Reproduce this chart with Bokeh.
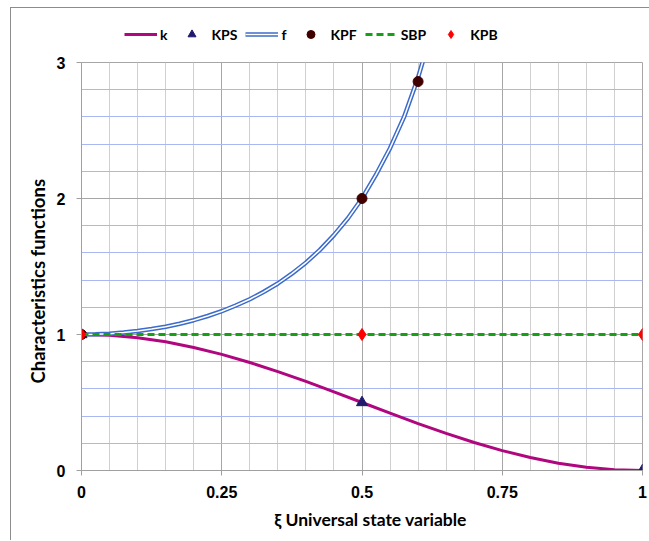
from bokeh.plotting import figure
from bokeh.layouts import column
from bokeh.models import Range1d, FixedTicker, Legend, LegendItem, Title
from bokeh.embed import file_html
from bokeh.resources import INLINE

# data
xk = [0.0, 0.05, 0.1, 0.15, 0.2, 0.25, 0.3, 0.35, 0.4, 0.45, 0.5,
      0.55, 0.6, 0.65, 0.7, 0.75, 0.8, 0.85, 0.9, 0.95, 1.0]
k_vals = [1.0, 0.994, 0.976, 0.946, 0.905, 0.854, 0.794, 0.727, 0.655, 0.578, 0.5,
          0.422, 0.345, 0.273, 0.206, 0.146, 0.095, 0.054, 0.024, 0.006, 0.0]
xf = [0.0, 0.025, 0.05, 0.075, 0.1, 0.125, 0.15, 0.175, 0.2, 0.225, 0.25, 0.275, 0.3,
      0.325, 0.35, 0.375, 0.4, 0.425, 0.45, 0.475, 0.5, 0.525, 0.55, 0.575, 0.6, 0.625]
f_vals = [1.0, 1.002, 1.006, 1.014, 1.025, 1.040, 1.057, 1.079, 1.105, 1.136, 1.171, 1.213, 1.259,
          1.314, 1.375, 1.447, 1.528, 1.622, 1.731, 1.855, 2.0, 2.175, 2.37, 2.60, 2.89, 3.24]
xs_sbp = [0.0, 1.0]
sbp_vals = [1.0, 1.0]
kps_x = [0.0, 0.5, 1.0]
kps_y = [1.0, 0.5, 0.0]
kpf_x = [0.0, 0.5, 0.6]
kpf_y = [1.0, 2.0, 2.86]
kpb_x = [0.0, 0.5, 1.0]
kpb_y = [1.0, 1.0, 1.0]
series_names = ["k", "KPS", "f", "KPF", "SBP", "KPB"]
x_ticks = [0, 0.25, 0.5, 0.75, 1]
x_tick_labels = {0: "0", 0.25: "0.25", 0.5: "0.5", 0.75: "0.75", 1: "1"}
y_ticks = [0, 1, 2, 3]
x_minor = [0.05, 0.1, 0.15, 0.2, 0.3, 0.35, 0.4, 0.45, 0.55, 0.6, 0.65, 0.7, 0.8, 0.85, 0.9, 0.95]
y_minor = [0.2, 0.4, 0.6, 0.8, 1.2, 1.4, 1.6, 1.8, 2.2, 2.4, 2.6, 2.8]

K_COLOR = "#b0077f"
KPS_COLOR = "#1f1a6b"
F_COLOR = "#3c6bc9"
KPF_COLOR = "#400000"
SBP_COLOR = "#15a015"
KPB_COLOR = "#ff0000"


def draw_series(fig, data):
    (kx, ky, sx, sy, fx, fy, cx, cy, bx, by, dx, dy) = data
    r_k = fig.line(kx, ky, line_color=K_COLOR, line_width=3)
    r_kps = fig.scatter(sx, sy, marker="triangle", size=11, fill_color=KPS_COLOR, line_color=KPS_COLOR)
    r_f1 = fig.line(fx, fy, line_color=F_COLOR, line_width=4.5)
    r_f2 = fig.line(fx, fy, line_color="#ffffff", line_width=1.5)
    r_kpf = fig.scatter(cx, cy, marker="circle", size=10, fill_color=KPF_COLOR, line_color=KPF_COLOR)
    r_sbp = fig.line(bx, by, line_color=SBP_COLOR, line_width=3, line_dash="7 4")
    r_kpb = fig.scatter(dx, dy, marker="diamond", size=12, fill_color=KPB_COLOR, line_color=KPB_COLOR)
    return [[r_k], [r_kps], [r_f1, r_f2], [r_kpf], [r_sbp], [r_kpb]]


# ---- main chart ----
p = figure(width=638, height=485, output_backend="svg", toolbar_location=None,
           x_range=Range1d(0, 1), y_range=Range1d(0, 3),
           min_border_left=70, min_border_right=7, min_border_top=7, min_border_bottom=70)
p.outline_line_color = "#a6a6a6"

p.xaxis.ticker = FixedTicker(ticks=x_ticks, minor_ticks=x_minor)
p.yaxis.ticker = FixedTicker(ticks=y_ticks, minor_ticks=y_minor)
p.xaxis.major_label_overrides = x_tick_labels

p.xgrid.grid_line_color = "#a6a6a6"
p.xgrid.minor_grid_line_color = "#d0d0d0"
p.ygrid.grid_line_color = "#a6a6a6"
p.ygrid.minor_grid_line_color = "#a9b8f2"

for ax in (p.xaxis[0], p.yaxis[0]):
    ax.axis_line_color = "#a0a0a0"
    ax.major_tick_line_color = "#a0a0a0"
    ax.major_tick_out = 5
    ax.major_tick_in = 0
    ax.minor_tick_line_color = None
    ax.major_label_text_font = "Liberation Sans"
    ax.major_label_text_font_style = "bold"
    ax.major_label_text_font_size = "16px"
    ax.major_label_text_color = "#000000"
    ax.axis_label_text_font = "Lato"
    ax.axis_label_text_font_style = "bold"
    ax.axis_label_text_font_size = "17.5px"
    ax.axis_label_text_color = "#000000"

p.xaxis.axis_label = "\u00a0\u00a0\u00a0\u00a0\u00a0ξ  Universal state variable"
p.xaxis.major_label_standoff = 10
p.yaxis.major_label_standoff = 11
p.xaxis.axis_label_standoff = 8

ytitle = Title(text="Characteristics functions", align="left", offset=87, standoff=9,
               text_font="Lato", text_font_style="bold", text_font_size="18.5px",
               text_color="#000000")
p.add_layout(ytitle, "left")

draw_series(p, (xk, k_vals, kps_x, kps_y, xf, f_vals, kpf_x, kpf_y, xs_sbp, sbp_vals, kpb_x, kpb_y))

# ---- legend strip (separate canvas so the legend is not clipped by the plot frame) ----
lg = figure(width=638, height=47, output_backend="svg", toolbar_location=None,
            x_range=Range1d(0, 1), y_range=Range1d(0, 1),
            min_border=0, min_border_left=0, min_border_right=0, min_border_top=0, min_border_bottom=0)
lg.axis.visible = False
lg.grid.visible = False
lg.outline_line_color = None
off = [-5.0, -4.0]
offy = [-5.0, -5.0]
groups = draw_series(lg, (off, offy, off[:1], offy[:1], off, offy, off[:1], offy[:1], off, offy, off[:1], offy[:1]))

legend = Legend(items=[LegendItem(label=n, renderers=g) for n, g in zip(series_names, groups)],
                orientation="horizontal", location=(43, 11))
legend.glyph_width = 33
legend.glyph_height = 20
legend.label_standoff = 3
legend.label_width = 0
legend.spacing = 8
legend.padding = 0
legend.margin = 0
legend.border_line_color = None
legend.background_fill_alpha = 0
legend.label_text_font = "Lato"
legend.label_text_font_style = "bold"
legend.label_text_font_size = "14px"
legend.label_text_color = "#000000"
lg.add_layout(legend, "center")

layout = column(lg, p, spacing=0,
                styles={"margin-left": "10px", "margin-top": "7px",
                        "border-left": "1px solid #8c8c8c", "border-top": "1px solid #8c8c8c"})

open("out.html", "w").write(file_html(layout, INLINE))
